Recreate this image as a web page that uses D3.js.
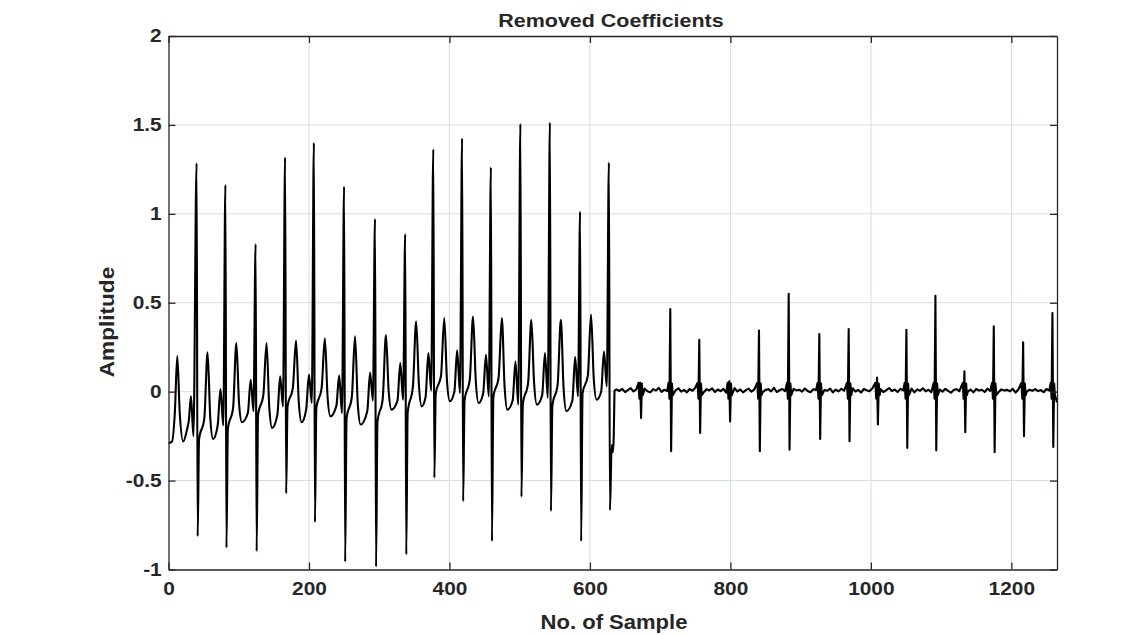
<!DOCTYPE html>
<html>
<head>
<meta charset="utf-8">
<script src="https://cdn.jsdelivr.net/npm/d3@7"></script>
<style>
  body { margin: 0; background: #fff; }
  svg { display: block; }
  text { font-family: "Liberation Sans", Arial, Helvetica, sans-serif; font-weight: bold; fill: #262626; }
</style>
</head>
<body>
<svg></svg>
<script>
// values
var xTicks = [0, 200, 400, 600, 800, 1000, 1200];
var yTicks = [-1, -0.5, 0, 0.5, 1, 1.5, 2];

// start of the trace, before the first R peak
var leadX = [0, 5, 9, 12.5, 16, 21, 26, 29, 32, 35.5];
var leadY = [-0.29, -0.28, -0.12, 0.2, -0.12, -0.28, -0.22, -0.16, -0.026, -0.25];

// first half: ECG beats (sample of R peak, R top, S bottom)
var rPos = [40, 81, 124, 166, 207, 250, 294, 337, 377, 418, 459, 501, 543, 586, 627];
var rTop = [1.285, 1.163, 0.83, 1.318, 1.40, 1.153, 0.972, 0.886, 1.363, 1.425, 1.262, 1.506, 1.513, 1.013, 1.288];
var sLow = [-0.813, -0.878, -0.897, -0.573, -0.734, -0.957, -0.985, -0.916, -0.485, -0.616, -0.841, -0.592, -0.672, -0.841, -0.667];
// level after S, rise into T, T top, fall after T, trough, rise into P, P top, dip before next R
var postLvl = [-0.27, -0.21, -0.13, -0.08, -0.09, -0.15, -0.17, -0.12, -0.01, -0.05, -0.03, -0.07, -0.08, -0.01];
var tRise = [-0.15, -0.09, -0.02, 0.02, 0.02, -0.03, -0.04, 0.03, 0.09, 0.07, 0.08, 0.05, 0.04, 0.09];
var tTop = [0.221, 0.274, 0.274, 0.288, 0.30, 0.311, 0.318, 0.395, 0.414, 0.423, 0.414, 0.404, 0.404, 0.433];
var tFall = [-0.15, -0.07, -0.09, -0.06, -0.03, -0.07, 0.0, 0.04, 0.06, 0.06, 0.03, 0.05, 0.02, 0.07];
var troughLvl = [-0.266, -0.172, -0.204, -0.172, -0.139, -0.185, -0.101, -0.083, -0.054, -0.064, -0.101, -0.073, -0.11, -0.045];
var pRise = [-0.19, -0.12, -0.13, -0.10, -0.08, -0.11, -0.05, -0.03, 0.0, -0.01, -0.05, -0.02, -0.05, 0.0];
var pTop = [0.015, 0.067, 0.086, 0.096, 0.09, 0.108, 0.161, 0.217, 0.232, 0.208, 0.17, 0.217, 0.195, 0.226];
var preDip = [-0.19, -0.11, -0.083, -0.064, -0.12, -0.05, -0.045, 0.006, -0.008, -0.026, -0.073, -0.035, -0.026, 0.03];

// drop into the second half
var dropX = [631, 633, 635];
var dropY = [-0.30, -0.34, 0.008];

// second half: small spikes
var qPos = [671.6, 714.4, 755.7, 798.4, 840.7, 883, 926.6, 968.4, 1008.8, 1050.6, 1091.9, 1133.2, 1175, 1216.8, 1258.5];
var qTop = [0.05, 0.465, 0.292, 0.058, 0.344, 0.55, 0.324, 0.352, 0.08, 0.348, 0.539, 0.114, 0.367, 0.277, 0.442];
var qLow = [-0.148, -0.335, -0.232, -0.167, -0.335, -0.326, -0.266, -0.279, -0.185, -0.316, -0.33, -0.228, -0.341, -0.251, -0.311];
var qWigOff = [-2.4, -1.2, 2.4, 3.6];
var qWigVal = [0.05, -0.04, 0.045, -0.02];

// baseline hum, every 4 samples from 638
var humStart = 638, humStep = 4;
var hum = [
  0.012, 0.004, 0.016, -0.003, 0.009, 0.020, 0.001, 0.013, -0.005, 0.010,
  0.017, 0.002, -0.004, 0.014, 0.006, 0.021, -0.001, 0.011, 0.004, -0.006,
  0.013, 0.008, 0.019, 0.000, 0.010, -0.004, 0.015, 0.005, 0.022, 0.002,
  0.009, -0.003, 0.014, 0.007, 0.018, -0.002, 0.012, 0.003, 0.016, -0.005,
  0.011, 0.006, 0.020, 0.001, 0.013, -0.004, 0.009, 0.017, 0.000, 0.012,
  0.005, 0.019, -0.003, 0.010, 0.014, 0.002, 0.021, -0.002, 0.008, 0.015,
  0.003, 0.012, -0.006, 0.016, 0.007, 0.011, 0.000, 0.018, 0.004, -0.003,
  0.014, 0.009, 0.020, -0.001, 0.010, 0.005, 0.017, -0.004, 0.012, 0.002,
  0.016, 0.006, -0.002, 0.013, 0.019, 0.001, 0.010, -0.005, 0.015, 0.008,
  0.003, 0.018, 0.000, 0.011, 0.014, -0.003, 0.009, 0.020, 0.004, 0.012,
  -0.002, 0.016, 0.007, 0.010, 0.001, 0.017, -0.004, 0.013, 0.005, 0.019,
  0.002, 0.011, -0.003, 0.015, 0.008, 0.012, 0.000, 0.016, 0.004, -0.006,
  0.010, 0.014, 0.003, 0.009, 0.018, 0.001, 0.012, -0.004, 0.015, 0.006,
  0.011, -0.002, 0.017, 0.004, 0.009, 0.020, -0.001, 0.013, 0.006, 0.010,
  0.002, 0.016, -0.005, 0.012, 0.008, 0.019, 0.000, 0.011, 0.005, 0.014,
  0.003, 0.009, -0.003, 0.015, 0.006, 0.012, -0.010
];
var endX = 1265, endY = -0.06;

function main() {
  var width = 1140, height = 635;
  var plotL = 168.5, plotR = 1057, plotT = 36, plotB = 569.5;
  var sx = 1.13; // text in the figure is a bit wider than Arial

  var svg = d3.select("svg").attr("width", width).attr("height", height);

  var x = d3.scaleLinear().domain([0, 1265]).range([plotL, plotR]);
  var y = d3.scaleLinear().domain([-1, 2]).range([plotB, plotT]);

  // first half of the trace
  var ecg = [];
  leadX.forEach(function(v, i) { ecg.push([v, leadY[i]]); });
  rPos.forEach(function(r, i) {
    ecg.push([r, rTop[i]]);
    ecg.push([r + 1.5, sLow[i]]);
    if (i < rPos.length - 1) {
      var nx = rPos[i + 1];
      ecg.push([r + 3.5, postLvl[i]]);
      ecg.push([r + 11, tRise[i]]);
      ecg.push([r + 15.6, tTop[i]]);
      ecg.push([r + 19.5, tFall[i]]);
      ecg.push([r + 23.5, troughLvl[i]]);
      ecg.push([nx - 11, pRise[i]]);
      ecg.push([nx - 7, pTop[i]]);
      ecg.push([nx - 3, preDip[i]]);
    }
  });
  dropX.forEach(function(v, i) { ecg.push([v, dropY[i]]); });

  // second half of the trace
  var tail = [[dropX[dropX.length - 1], dropY[dropY.length - 1]]];
  hum.forEach(function(v, k) {
    var s = humStart + k * humStep;
    var near = qPos.some(function(q) { return Math.abs(q - s) < 4; });
    if (!near && s < endX) tail.push([s, v]);
  });
  qPos.forEach(function(q, i) {
    tail.push([q + qWigOff[0], qWigVal[0]]);
    tail.push([q + qWigOff[1], qWigVal[1]]);
    tail.push([q, qTop[i]]);
    tail.push([q + 1.2, qLow[i]]);
    tail.push([q + qWigOff[2], qWigVal[2]]);
    tail.push([q + qWigOff[3], qWigVal[3]]);
  });
  tail.push([endX, endY]);
  tail.sort(function(a, b) { return a[0] - b[0]; });

  // grid
  var grid = svg.append("g").attr("stroke", "#d6dde6").attr("stroke-width", 1);
  grid.selectAll(".gx").data(xTicks.slice(1)).enter().append("line")
    .attr("x1", function(d) { return x(d); }).attr("x2", function(d) { return x(d); })
    .attr("y1", plotT).attr("y2", plotB);
  grid.selectAll(".gy").data(yTicks.slice(1, -1)).enter().append("line")
    .attr("y1", function(d) { return y(d); }).attr("y2", function(d) { return y(d); })
    .attr("x1", plotL).attr("x2", plotR);

  svg.append("clipPath").attr("id", "clip").append("rect")
    .attr("x", plotL).attr("y", plotT).attr("width", plotR - plotL).attr("height", plotB - plotT);

  var smooth = d3.line()
    .x(function(d) { return x(d[0]); })
    .y(function(d) { return y(d[1]); })
    .curve(d3.curveMonotoneX);
  var jagged = d3.line()
    .x(function(d) { return x(d[0]); })
    .y(function(d) { return y(d[1]); });

  var traces = svg.append("g").attr("clip-path", "url(#clip)")
    .attr("fill", "none").attr("stroke", "#000")
    .attr("stroke-width", 2.1).attr("stroke-linejoin", "round");
  traces.append("path").attr("d", smooth(ecg));
  traces.append("path").attr("d", jagged(tail));

  // axes, MATLAB style box with inward ticks
  function styleAxis(g) {
    g.select(".domain").attr("stroke", "#262626").attr("stroke-width", 1.3);
    g.selectAll(".tick line").attr("stroke", "#262626").attr("stroke-width", 1.3);
    g.selectAll("text").attr("font-size", 18.5).attr("fill", "#262626");
  }

  var xAxis = svg.append("g").attr("transform", "translate(0," + plotB + ")")
    .call(d3.axisBottom(x).tickValues(xTicks).tickFormat(d3.format("d"))
      .tickSizeInner(-7).tickSizeOuter(0).tickPadding(12));
  styleAxis(xAxis);
  xAxis.selectAll("text").attr("transform", "scale(" + sx + ",1)");

  var xTop = svg.append("g").attr("transform", "translate(0," + plotT + ")")
    .call(d3.axisTop(x).tickValues(xTicks).tickFormat("").tickSizeInner(-7).tickSizeOuter(0));
  styleAxis(xTop);

  var yAxis = svg.append("g").attr("transform", "translate(" + plotL + ",0)")
    .call(d3.axisLeft(y).tickValues(yTicks).tickFormat(function(d) { return String(d); })
      .tickSizeInner(-7).tickSizeOuter(0).tickPadding(6));
  styleAxis(yAxis);
  yAxis.selectAll("text").attr("transform", "scale(" + sx + ",1)");

  var yRight = svg.append("g").attr("transform", "translate(" + plotR + ",0)")
    .call(d3.axisRight(y).tickValues(yTicks).tickFormat("").tickSizeInner(-7).tickSizeOuter(0));
  styleAxis(yRight);

  // titles
  svg.append("text")
    .attr("transform", "translate(611,27) scale(" + sx + ",1)")
    .attr("text-anchor", "middle").attr("font-size", 19)
    .text("Removed Coefficients");

  svg.append("text")
    .attr("transform", "translate(614,629) scale(" + sx + ",1)")
    .attr("text-anchor", "middle").attr("font-size", 19.5)
    .text("No. of Sample");

  svg.append("text")
    .attr("transform", "translate(107,322) rotate(-90) scale(" + sx + ",1)")
    .attr("text-anchor", "middle").attr("dy", "0.35em").attr("font-size", 20)
    .text("Amplitude");
}

main();
</script>
</body>
</html>
